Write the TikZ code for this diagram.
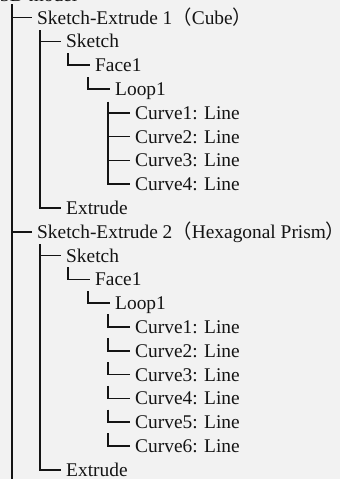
\documentclass[tikz,border=0pt]{standalone}
\usepackage{fontspec}
\setmainfont{Liberation Serif}
\newfontfamily\cjk{Noto Sans CJK SC}
\usetikzlibrary{positioning}
\definecolor{paper}{HTML}{F2F2F2}
\definecolor{ink}{HTML}{141414}
% full-width brackets; the closing one gives back its empty right half
\newcommand{\lbr}{{\cjk （}}
\newcommand{\rbr}{{\cjk ）}\hspace{-0.5em}}

\begin{document}
\begin{tikzpicture}[x=1pt,y=-1pt,
    every node/.style={font=\fontsize{19.4}{23.8}\selectfont, text=ink},
    item/.style={anchor=west, inner sep=0pt, text height=13.2pt, text depth=0pt},
    branch/.style={draw=ink, line width=1.6pt, shorten >=5.5pt}]

  \useasboundingbox [fill=paper] (0,0) rectangle (340,479);
  \clip (0,0) rectangle (340,479);

  \node [anchor=base west, inner sep=0pt] (model) at (0,1.5) {3D model};

  % root trunk
  \coordinate (root) at (12,4);
  \coordinate (rootend) at (12,479);
  \draw [branch, shorten >=0pt] (root) -- (rootend);

  % first feature
  \node [item] (se1) at (37,17.5) {Sketch-Extrude 1\lbr Cube\rbr};
  \node [item] (sk1) at (66,41.3) {Sketch};
  \node [item] (fa1) at (95,65.1) {Face1};
  \node [item] (lo1) at (115,88.9) {Loop1};
  \foreach \i/\y in {1/112.7,2/136.5,3/160.3,4/184.1}
    \node [item] (cu1\i) at (135,\y) {Curve\i: Line};
  \node [item] (ex1) at (66,207.9) {Extrude};

  \draw [branch] (root |- se1) -- (se1);
  \coordinate (se1trunk) at (40,30);
  \draw [branch] (se1trunk) |- (ex1);
  \draw [branch] (se1trunk |- sk1) -- (sk1);
  \coordinate (sk1corner) at (68,53);
  \draw [branch] (sk1corner) |- (fa1);
  \coordinate (fa1corner) at (88,77);
  \draw [branch] (fa1corner) |- (lo1);
  \coordinate (lo1trunk) at (108,101.5);
  \draw [branch] (lo1trunk) |- (cu14);
  \foreach \i in {1,2,3}
    \draw [branch] (lo1trunk |- cu1\i) -- (cu1\i);

  % second feature
  \node [item] (se2) at (37,231.7) {Sketch-Extrude 2\lbr Hexagonal Prism\rbr};
  \node [item] (sk2) at (66,255.5) {Sketch};
  \node [item] (fa2) at (95,279.3) {Face1};
  \node [item] (lo2) at (115,303.1) {Loop1};
  \node [item] (ex2) at (66,469.7) {Extrude};

  \draw [branch] (root |- se2) -- (se2);
  \coordinate (se2trunk) at (40,244);
  \draw [branch] (se2trunk) |- (ex2);
  \draw [branch] (se2trunk |- sk2) -- (sk2);
  \coordinate (sk2corner) at (68,267);
  \draw [branch] (sk2corner) |- (fa2);
  \coordinate (fa2corner) at (88,291);
  \draw [branch] (fa2corner) |- (lo2);
  \foreach \i/\y in {1/326.9,2/350.7,3/374.5,4/398.3,5/422.1,6/445.9} {
    \node [item] (cu2\i) at (135,\y) {Curve\i: Line};
    \coordinate (cu2\i corner) at (108,{\y-12.5});
    \draw [branch] (cu2\i corner) |- (cu2\i);
  }

\end{tikzpicture}
\end{document}
